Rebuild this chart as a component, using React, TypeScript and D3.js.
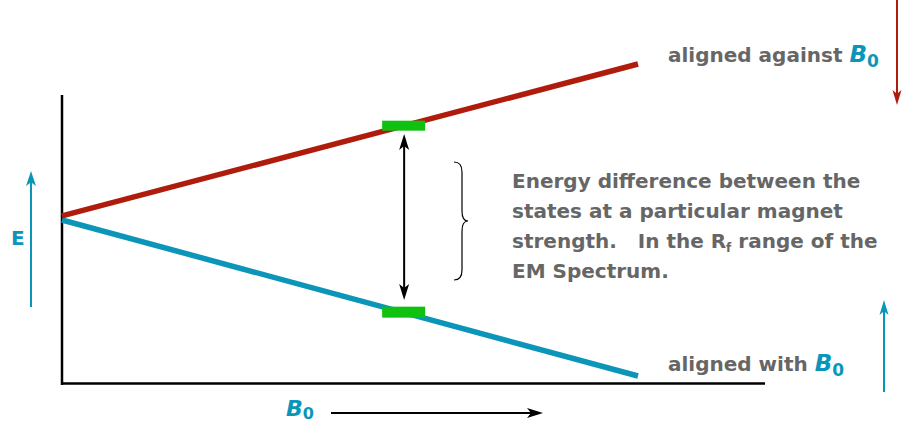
import React from "react";
import * as d3 from "d3";

const bField = [0, 1];
const energyAgainst = [0.026, 1];
const energyWith = [0, -1];
const markerB = 0.594;
const noteLines = [
  "Energy difference between the",
  "states at a particular magnet",
  "strength.   In the R",
  "EM Spectrum.",
];

const RED = "#b01c0c";
const BLUE = "#0b95b9";
const GREEN = "#11c111";
const GRAY = "#666666";
const FONT = "'DejaVu Sans', sans-serif";

function Head({ x, y, dir, color, w = 10, l = 14 }: { x: number; y: number; dir: "up" | "down" | "right"; color: string; w?: number; l?: number }) {
  let d = "";
  if (dir === "up") d = `M${x},${y} L${x + w / 2},${y + l} L${x},${y + l * 0.75} L${x - w / 2},${y + l} Z`;
  if (dir === "down") d = `M${x},${y} L${x + w / 2},${y - l} L${x},${y - l * 0.75} L${x - w / 2},${y - l} Z`;
  if (dir === "right") d = `M${x},${y} L${x - l},${y - w / 2} L${x - l * 0.75},${y} L${x - l},${y + w / 2} Z`;
  return <path d={d} fill={color} />;
}

export default function App() {
  const W = 903, H = 423;
  const x = d3.scaleLinear().domain([0, 1]).range([62, 638]);
  const y = d3.scaleLinear().domain([-1, 1]).range([376, 64]);
  const line = d3.line<number>().x((_, i) => x(bField[i])).y((d) => y(d));
  const interp = (arr: number[], b: number) => arr[0] + (arr[1] - arr[0]) * b;
  const mx = x(markerB);
  const yTop = y(interp(energyAgainst, markerB));
  const yBot = y(interp(energyWith, markerB));

  const braceX = 454, braceTop = 162, braceBot = 280, braceMid = (braceTop + braceBot) / 2;
  const bx = braceX + 8;
  const brace = `M${braceX},${braceTop} Q${bx},${braceTop} ${bx},${braceTop + 10} L${bx},${braceMid - 10} Q${bx},${braceMid} ${bx + 6},${braceMid} Q${bx},${braceMid} ${bx},${braceMid + 10} L${bx},${braceBot - 10} Q${bx},${braceBot} ${braceX},${braceBot}`;

  return (
    <svg width={W} height={H} style={{ position: "absolute", left: 0, top: 0, background: "#fff" }}>
      {/* axes */}
      <line x1={62} y1={95} x2={62} y2={385} stroke="#000" strokeWidth={2.5} />
      <line x1={61} y1={383.5} x2={765} y2={383.5} stroke="#000" strokeWidth={2.5} />

      {/* energy lines */}
      <path d={line(energyWith) || ""} stroke={BLUE} strokeWidth={5.5} fill="none" />
      <path d={line(energyAgainst) || ""} stroke={RED} strokeWidth={5.5} fill="none" />

      {/* double arrow */}
      <line x1={mx} y1={145} x2={mx} y2={290} stroke="#000" strokeWidth={2} />
      <Head x={mx} y={134} dir="up" color="#000" w={10} l={16} />
      <Head x={mx} y={300} dir="down" color="#000" w={10} l={16} />

      {/* green markers */}
      <rect x={mx - 22} y={yTop - 5} width={43} height={10} fill={GREEN} />
      <rect x={mx - 22} y={yBot - 6} width={43} height={11} fill={GREEN} />

      {/* brace */}
      <path d={brace} stroke="#000" strokeWidth={1.2} fill="none" />

      {/* note text */}
      <g fontFamily={FONT} fontWeight={700} fontSize={20} fill={GRAY}>
        {noteLines.map((t, i) => (
          <text key={i} x={512} y={188 + i * 30} xmlSpace="preserve" style={{ whiteSpace: "pre" }}>
            {t}
            {i === 2 && (
              <>
                <tspan fontSize={12} dy={4}>f</tspan>
                <tspan dy={-4}> range of the</tspan>
              </>
            )}
          </text>
        ))}
      </g>

      {/* series labels */}
      <text x={668} y={62} fontFamily={FONT} fontWeight={700} fontSize={20} fill={GRAY}>
        aligned against{" "}
        <tspan fill={BLUE} fontStyle="italic" fontSize={23}>B</tspan>
        <tspan fill={BLUE} fontSize={17} dy={5}>0</tspan>
      </text>
      <text x={668} y={371} fontFamily={FONT} fontWeight={700} fontSize={20} fill={GRAY}>
        aligned with{" "}
        <tspan fill={BLUE} fontStyle="italic" fontSize={23}>B</tspan>
        <tspan fill={BLUE} fontSize={17} dy={5}>0</tspan>
      </text>

      {/* side arrows */}
      <line x1={897} y1={0} x2={897} y2={95} stroke={RED} strokeWidth={2} />
      <Head x={897} y={105} dir="down" color={RED} w={9} l={15} />
      <line x1={884} y1={392} x2={884} y2={310} stroke={BLUE} strokeWidth={2} />
      <Head x={884} y={300} dir="up" color={BLUE} w={9} l={15} />
      <line x1={31} y1={307} x2={31} y2={182} stroke={BLUE} strokeWidth={2} />
      <Head x={31} y={171} dir="up" color={BLUE} w={10} l={15} />

      {/* E label */}
      <text x={11} y={245} fontFamily={FONT} fontWeight={700} fontSize={20} fill={BLUE}>E</text>

      {/* B0 axis label */}
      <text x={286} y={416} fontFamily={FONT} fontWeight={700} fontSize={22} fill={BLUE} fontStyle="italic">
        B<tspan fontSize={16} fontStyle="normal" dy={3}>0</tspan>
      </text>
      <line x1={331} y1={413} x2={535} y2={413} stroke="#000" strokeWidth={2} />
      <Head x={543} y={413} dir="right" color="#000" w={10} l={16} />
    </svg>
  );
}
